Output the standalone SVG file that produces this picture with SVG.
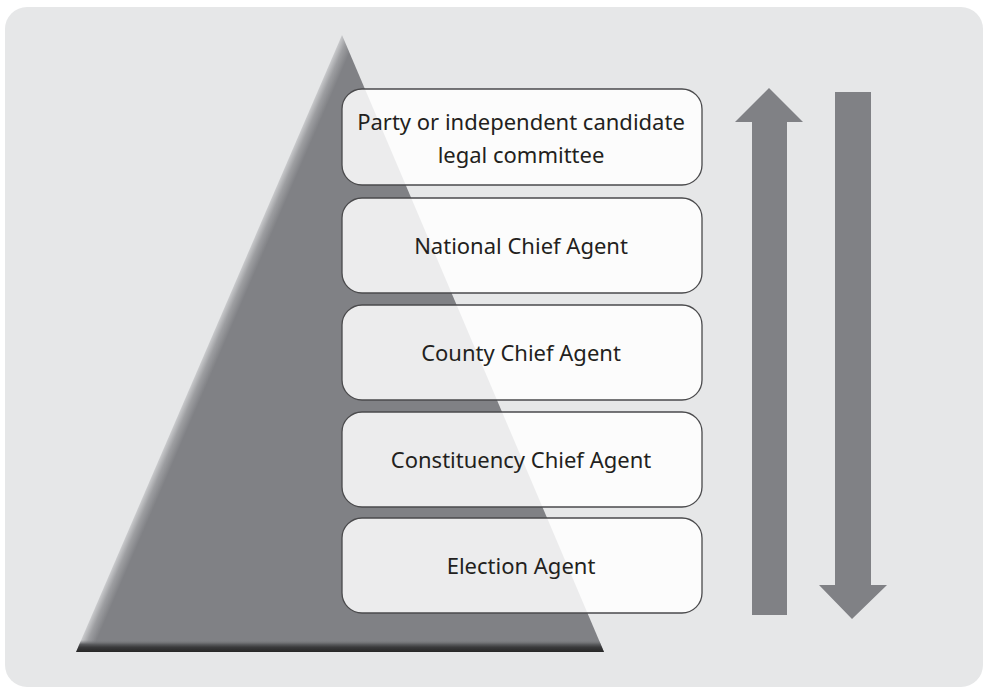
<svg xmlns="http://www.w3.org/2000/svg" width="984" height="689" viewBox="0 0 984 689">
  <defs>
    <style>
      .panel { fill: #e6e7e8; }
      .level { fill: #ffffff; fill-opacity: 0.85; stroke: #4a4a4c; stroke-width: 1.3; }
      .label { font-family: "Noto Sans", "Liberation Sans", sans-serif; font-size: 22px; fill: #231f20; text-anchor: middle; }
      .flow { fill: #808185; }
    </style>
    <!-- light bevel along the left face of the pyramid -->
    <linearGradient id="leftBevel" gradientUnits="userSpaceOnUse" x1="209" y1="343.5" x2="222" y2="349.1">
      <stop offset="0" stop-color="#c9cacc"/>
      <stop offset="0.45" stop-color="#9d9ea1"/>
      <stop offset="1" stop-color="#808185"/>
    </linearGradient>
    <!-- dark shadow along the base -->
    <linearGradient id="baseShade" gradientUnits="userSpaceOnUse" x1="0" y1="640" x2="0" y2="652">
      <stop offset="0" stop-color="#808185" stop-opacity="0"/>
      <stop offset="0.35" stop-color="#5c5d60"/>
      <stop offset="0.6" stop-color="#3a3a3c"/>
      <stop offset="1" stop-color="#262626"/>
    </linearGradient>
    <clipPath id="pyramidClip">
      <polygon points="342,35 76,652 604,652"/>
    </clipPath>
  </defs>

  <!-- background panel -->
  <rect class="panel" x="5" y="7" width="978" height="680" rx="22" ry="22"/>

  <!-- pyramid -->
  <g id="pyramid">
    <polygon points="342,35 76,652 604,652" fill="url(#leftBevel)"/>
    <rect x="60" y="638" width="560" height="16" fill="url(#baseShade)" clip-path="url(#pyramidClip)"/>
  </g>

  <!-- hierarchy levels -->
  <g id="level-committee">
    <rect class="level" x="342" y="89" width="360" height="96" rx="20" ry="20"/>
    <text class="label" x="521" y="130">Party or independent candidate</text>
    <text class="label" x="521" y="163">legal committee</text>
  </g>
  <g id="level-national">
    <rect class="level" x="342" y="198" width="360" height="95" rx="20" ry="20"/>
    <text class="label" x="521" y="254">National Chief Agent</text>
  </g>
  <g id="level-county">
    <rect class="level" x="342" y="305" width="360" height="95" rx="20" ry="20"/>
    <text class="label" x="521" y="361">County Chief Agent</text>
  </g>
  <g id="level-constituency">
    <rect class="level" x="342" y="412" width="360" height="95" rx="20" ry="20"/>
    <text class="label" x="521" y="468">Constituency Chief Agent</text>
  </g>
  <g id="level-election">
    <rect class="level" x="342" y="518" width="360" height="95" rx="20" ry="20"/>
    <text class="label" x="521" y="574">Election Agent</text>
  </g>

  <!-- upward and downward flow arrows -->
  <g id="connectors">
    <polygon class="flow" points="769,88 803,122 787,122 787,615 752,615 752,122 735,122"/>
    <polygon class="flow" points="835,92 871,92 871,585 887,585 852,619 819,585 835,585"/>
  </g>
</svg>
